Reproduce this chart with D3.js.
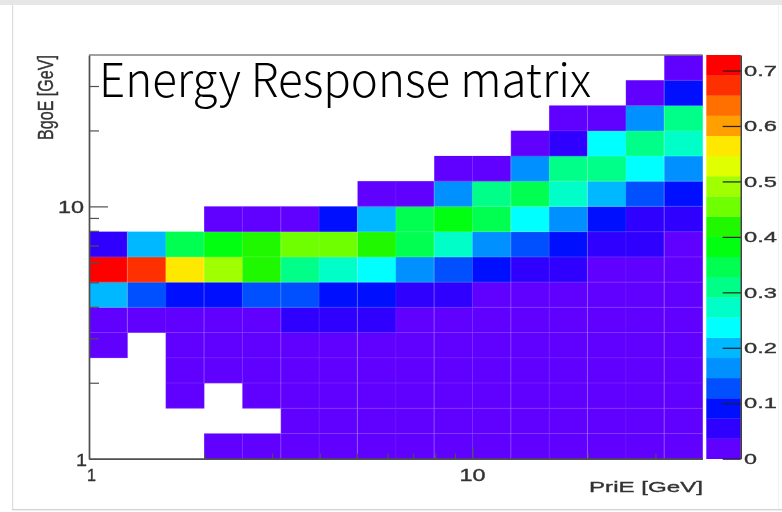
<!DOCTYPE html>
<html>
<head>
<meta charset="utf-8">
<script src="https://d3js.org/d3.v7.min.js"></script>
<style>
html,body{margin:0;padding:0;background:#fff}
svg{display:block}
</style>
</head>
<body>
<svg id="c" width="782" height="512"></svg>
<script>
const bandColors = ["#6000ff","#3000ff","#0010ff","#0050ff","#0090ff","#00b8ff","#00ffff","#00ffc8","#00ff88","#00ff50","#00ff10","#20f800","#70ff00","#a0ff00","#e0ff00","#ffe800","#ffa000","#ff7000","#ff3000","#ff0000"];
const zMax = 0.728;
const zTicks = [0,0.1,0.2,0.3,0.4,0.5,0.6,0.7];
const xMinor = [2,3,4,5,6,7,8,9,20,30];
const yMinor = [2,3,4,5,6,7,8,9,20,30];
const xMajor = [1,10];
const yMajor = [1,10];
const binsPerDecade = 10;
const nBins = 16;
const _ = null;
// rows listed bottom (row00) to top (row15); each holds 16 PriE bins
const row00 = [_,_,_,.02,.02,.02,.02,.02,.02,.02,.02,.02,.02,.02,.02,.02];
const row01 = [_,_,_,_,_,.02,.02,.02,.02,.02,.02,.02,.02,.02,.02,.02];
const row02 = [_,_,.02,_,.02,.02,.02,.02,.02,.02,.02,.02,.02,.02,.02,.02];
const row03 = [_,_,.02,.02,.02,.02,.02,.02,.02,.02,.02,.02,.02,.02,.02,.02];
const row04 = [.02,_,.02,.02,.02,.02,.02,.02,.02,.02,.02,.02,.02,.02,.02,.02];
const row05 = [.02,.02,.02,.02,.02,.05,.05,.05,.02,.02,.02,.02,.02,.02,.02,.02];
const row06 = [.2,.13,.09,.09,.13,.13,.09,.09,.05,.05,.02,.02,.02,.02,.02,.02];
const row07 = [.71,.67,.56,.49,.42,.31,.27,.24,.16,.13,.09,.05,.05,.02,.02,.02];
const row08 = [.05,.2,.35,.38,.42,.46,.46,.42,.35,.27,.16,.13,.09,.05,.05,.02];
const row09 = [_,_,_,.02,.02,.02,.09,.2,.35,.38,.35,.24,.16,.09,.05,.05];
const row10 = [_,_,_,_,_,_,_,.02,.02,.16,.31,.35,.27,.2,.13,.09];
const row11 = [_,_,_,_,_,_,_,_,_,.02,.02,.16,.31,.31,.24,.16];
const row12 = [_,_,_,_,_,_,_,_,_,_,_,.02,.05,.24,.31,.27];
const row13 = [_,_,_,_,_,_,_,_,_,_,_,_,.02,.02,.16,.31];
const row14 = [_,_,_,_,_,_,_,_,_,_,_,_,_,_,.02,.09];
const row15 = [_,_,_,_,_,_,_,_,_,_,_,_,_,_,_,.02];
const rows = [row00,row01,row02,row03,row04,row05,row06,row07,row08,row09,row10,row11,row12,row13,row14,row15];

const svg = d3.select("#c");
const P = {l:89, r:702.5, t:55, b:458.7};
const eMax = Math.pow(10, nBins/binsPerDecade);
const x = d3.scaleLog().domain([1,eMax]).range([P.l,P.r]);
const y = d3.scaleLog().domain([1,eMax]).range([P.b,P.t]);
const z = d3.scaleLinear().domain([0,zMax]).range([458.7,55]);
const col = d3.scaleQuantize().domain([0,zMax]).range(bandColors);
const edge = i => Math.pow(10,i/binsPerDecade);

const defs = svg.append("defs");
defs.append("filter").attr("id","soft").attr("x","-5%").attr("y","-5%").attr("width","110%").attr("height","110%")
  .append("feGaussianBlur").attr("stdDeviation",0.45);

// page frame
svg.append("rect").attr("x",0).attr("y",0).attr("width",782).attr("height",5).attr("fill","#e6e6e6");
svg.append("rect").attr("x",12).attr("y",5).attr("width",1.2).attr("height",505).attr("fill","#dcdcdc");
svg.append("rect").attr("x",12).attr("y",509).attr("width",770).attr("height",1.4).attr("fill","#d4d4d4");
svg.append("rect").attr("x",778).attr("y",5).attr("width",1).attr("height",504).attr("fill","#f2f2f2");

// cells
const cells = [];
rows.forEach((r,j)=>r.forEach((v,i)=>{ if(v!==null) cells.push({i,j,v}); }));
const gc = svg.append("g");
gc.selectAll("rect").data(cells).join("rect")
  .attr("x",d=>x(edge(d.i))).attr("y",d=>y(edge(d.j+1)))
  .attr("width",d=>x(edge(d.i+1))-x(edge(d.i))+0.3)
  .attr("height",d=>y(edge(d.j))-y(edge(d.j+1))+0.3)
  .attr("fill",d=>col(d.v));
// faint cell seams
const gs = svg.append("g").attr("filter","url(#soft)");
gs.selectAll("line.v").data(cells.filter(d=>d.i>0)).join("line").attr("class","v")
  .attr("x1",d=>x(edge(d.i))).attr("x2",d=>x(edge(d.i)))
  .attr("y1",d=>y(edge(d.j))).attr("y2",d=>y(edge(d.j+1)))
  .attr("stroke","#fff").attr("stroke-width",1.1).attr("stroke-opacity",d=>d.i%2?0.24:0.07);
gs.selectAll("line.h").data(cells.filter(d=>d.j>0)).join("line").attr("class","h")
  .attr("x1",d=>x(edge(d.i))).attr("x2",d=>x(edge(d.i+1)))
  .attr("y1",d=>y(edge(d.j))).attr("y2",d=>y(edge(d.j)))
  .attr("stroke","#fff").attr("stroke-width",1.1).attr("stroke-opacity",0.12);

// colour bar
const CB = {l:706.3, r:740.7};
const gb = svg.append("g");
gb.selectAll("rect").data(bandColors).join("rect")
  .attr("x",CB.l).attr("width",CB.r-CB.l)
  .attr("y",(d,i)=>z((i+1)*zMax/bandColors.length))
  .attr("height",(d,i)=>z(i*zMax/bandColors.length)-z((i+1)*zMax/bandColors.length)+0.3)
  .attr("fill",d=>d);

// axes
function styleAxis(g,color,w){
  g.select(".domain").attr("stroke",color).attr("stroke-width",w);
  g.selectAll(".tick line").attr("stroke",color).attr("stroke-width",1.2);
  g.selectAll(".tick text").remove();
}
const ax = svg.append("g").attr("filter","url(#soft)");
const gx1 = ax.append("g").attr("transform",`translate(0,${P.b})`)
  .call(d3.axisBottom(x).tickValues(xMinor).tickSize(-5).tickSizeOuter(0).tickFormat(""));
const gx2 = ax.append("g").attr("transform",`translate(0,${P.b})`)
  .call(d3.axisBottom(x).tickValues(xMajor.slice(1)).tickSize(-12).tickSizeOuter(0).tickFormat(""));
const gy1 = ax.append("g").attr("transform",`translate(${P.l},0)`)
  .call(d3.axisLeft(y).tickValues(yMinor).tickSize(-10).tickSizeOuter(0).tickFormat(""));
const gy2 = ax.append("g").attr("transform",`translate(${P.l},0)`)
  .call(d3.axisLeft(y).tickValues(yMajor.slice(1)).tickSize(-19).tickSizeOuter(0).tickFormat(""));
[gx1,gx2,gy1,gy2].forEach(g=>styleAxis(g,"#505050",1.4));
ax.append("line").attr("x1",P.l).attr("x2",P.r).attr("y1",P.t).attr("y2",P.t).attr("stroke","#808080").attr("stroke-width",1.3);
const gz = ax.append("g").attr("transform",`translate(${CB.r},0)`)
  .call(d3.axisLeft(z).tickValues(zTicks).tickSize(-0).tickSizeOuter(0).tickFormat(""));
gz.selectAll(".tick line").attr("x1",-18).attr("x2",0);
gz.select(".domain").attr("stroke","#202020").attr("stroke-width",1.3);
gz.selectAll(".tick line").attr("stroke","#202020").attr("stroke-width",1.2);

// text
const tx = svg.append("g").attr("filter","url(#soft)")
  .attr("font-family","'Liberation Sans',Arial,sans-serif").attr("fill","#333")
  .attr("stroke","#333").attr("stroke-width",0.35);
function label(s,px,py,len,size,anchor){
  return tx.append("text").attr("x",px).attr("y",py).attr("font-size",size)
    .attr("text-anchor",anchor||"start").attr("textLength",len).attr("lengthAdjust","spacingAndGlyphs").text(s);
}
label("1",x(1)-2,481,9,16);
label("10",x(10)-13,481,26,16);
label("1",76,466,11,17);
label("10",58,213,26,16);
zTicks.forEach(t=>{
  const s = t===0 ? "0" : d3.format(".1f")(t);
  label(s,744,z(t)+5.2,t===0?13:33,15.5);
});
label("PriE [GeV]",589,492,114,15.5);
tx.append("text").attr("transform","translate(53,140) rotate(-90)").attr("font-size",22)
  .attr("textLength",85).attr("lengthAdjust","spacingAndGlyphs").text("BgoE [GeV]");

// title
svg.append("text").attr("x",99).attr("y",97)
  .attr("font-family","'Noto Sans CJK SC','Noto Sans',sans-serif").attr("font-weight",300)
  .attr("font-size",46).attr("fill","#000")
  .attr("textLength",492).attr("lengthAdjust","spacingAndGlyphs").text("Energy Response matrix");
</script>
</body>
</html>
